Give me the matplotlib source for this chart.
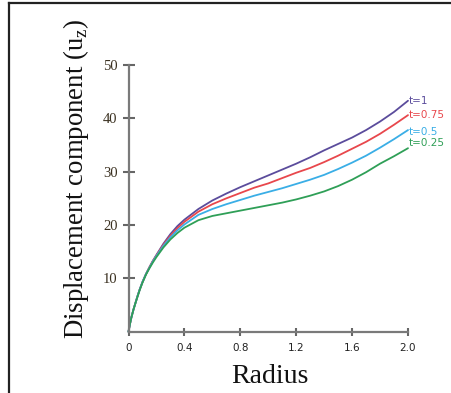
import matplotlib
matplotlib.use("Agg")
import matplotlib.pyplot as plt
from matplotlib.lines import Line2D

# ---- data ----
radius = [0, 0.01, 0.02, 0.035, 0.05, 0.065, 0.08, 0.1, 0.125, 0.15, 0.175, 0.2, 0.25, 0.3,
          0.35, 0.4, 0.5, 0.6, 0.7, 0.8, 0.9, 1.0, 1.1, 1.2, 1.3, 1.4, 1.5, 1.6,
          1.7, 1.8, 1.9, 2.0]
u_t1 = [0, 1.4, 2.6, 4.1, 5.4, 6.7, 7.9, 9.3, 10.8, 12.1, 13.3, 14.4, 16.5, 18.3,
        19.8, 21.0, 23.0, 24.6, 25.9, 27.1, 28.2, 29.3, 30.4, 31.5, 32.7, 34.0, 35.2, 36.4,
        37.8, 39.4, 41.2, 43.3]
u_t075 = [0, 1.4, 2.6, 4.1, 5.4, 6.7, 7.9, 9.3, 10.8, 12.1, 13.3, 14.3, 16.3, 18.0,
          19.4, 20.6, 22.5, 23.9, 25.0, 26.0, 27.0, 27.8, 28.8, 29.8, 30.7, 31.8, 33.0, 34.3,
          35.6, 37.1, 38.8, 40.6]
u_t05 = [0, 1.4, 2.6, 4.1, 5.4, 6.7, 7.9, 9.3, 10.8, 12.0, 13.2, 14.2, 16.1, 17.7,
         19.0, 20.1, 21.9, 23.0, 23.9, 24.7, 25.5, 26.2, 26.9, 27.7, 28.5, 29.4, 30.5, 31.7,
         33.0, 34.5, 36.1, 37.8]
u_t025 = [0, 1.4, 2.6, 4.1, 5.4, 6.6, 7.8, 9.2, 10.7, 11.9, 13.0, 14.0, 15.8, 17.3,
          18.5, 19.5, 20.9, 21.7, 22.2, 22.7, 23.2, 23.7, 24.2, 24.8, 25.5, 26.3, 27.3, 28.5,
          29.9, 31.5, 32.9, 34.4]
series_labels = ["t=1", "t=0.75", "t=0.5", "t=0.25"]
x_ticks = [0, 0.4, 0.8, 1.2, 1.6, 2.0]
x_tick_labels = ["0", "0.4", "0.8", "1.2", "1.6", "2.0"]
y_ticks = [10, 20, 30, 40, 50]

colors = ["#5b4c9c", "#e8474c", "#3aaee6", "#2f9f57"]
label_dy = [0.0, 0.0, -0.3, 0.9]

W, H = 452, 393
fig = plt.figure(figsize=(W / 100, H / 100), dpi=100)
fig.patch.set_facecolor("white")

x0, x1 = 128.5, 408.0
y0, y1 = 331.7, 65.0
ax = fig.add_axes([x0 / W, 1 - y0 / H, (x1 - x0) / W, (y0 - y1) / H])
ax.set_xlim(0, 2.0)
ax.set_ylim(0, 50)
ax.patch.set_alpha(0)

for s in ["top", "right"]:
    ax.spines[s].set_visible(False)
for s in ["left", "bottom"]:
    ax.spines[s].set_color("#7a7a7a")
    ax.spines[s].set_linewidth(1.6)

ax.set_xticks(x_ticks)
ax.set_xticklabels(x_tick_labels, fontsize=7.5, family="DejaVu Sans", color="#222222")
ax.set_yticks(y_ticks)
ax.set_yticklabels([str(v) for v in y_ticks], fontsize=10.5, family="Liberation Serif",
                   color="#3a3020")
ax.tick_params(axis="x", direction="inout", length=6, width=1.5, color="#666666", pad=5)
ax.tick_params(axis="y", direction="inout", length=8, width=1.5, color="#666666", pad=4)

all_series = [u_t1, u_t075, u_t05, u_t025]
for ys, c, lab, dy in zip(all_series, colors, series_labels, label_dy):
    ax.plot(radius, ys, color=c, lw=1.3, solid_capstyle="round",
            solid_joinstyle="round", clip_on=False)
    ax.text(radius[-1] + 0.005, ys[-1] + dy, lab, color=c, fontsize=7.5,
            family="DejaVu Sans", ha="left", va="center", clip_on=False)

fig.text(83.5 / W, 1 - 179 / H, r"Displacement component (u$_\mathregular{z}$)",
         rotation=90, rotation_mode="anchor", ha="center", va="baseline",
         fontsize=19.3, family="Liberation Serif", color="#111111")
fig.text(270 / W, 1 - 383 / H, "Radius", ha="center", va="baseline",
         fontsize=20, family="Liberation Serif", color="#111111")

# outer frame (left and top)
fig.add_artist(Line2D([9 / W, 9 / W], [0, 1 - 3 / H], transform=fig.transFigure,
                      color="#222222", lw=1.6))
fig.add_artist(Line2D([9 / W, 1], [1 - 3 / H, 1 - 3 / H], transform=fig.transFigure,
                      color="#222222", lw=1.6))

fig.savefig("out.png", dpi=100)
